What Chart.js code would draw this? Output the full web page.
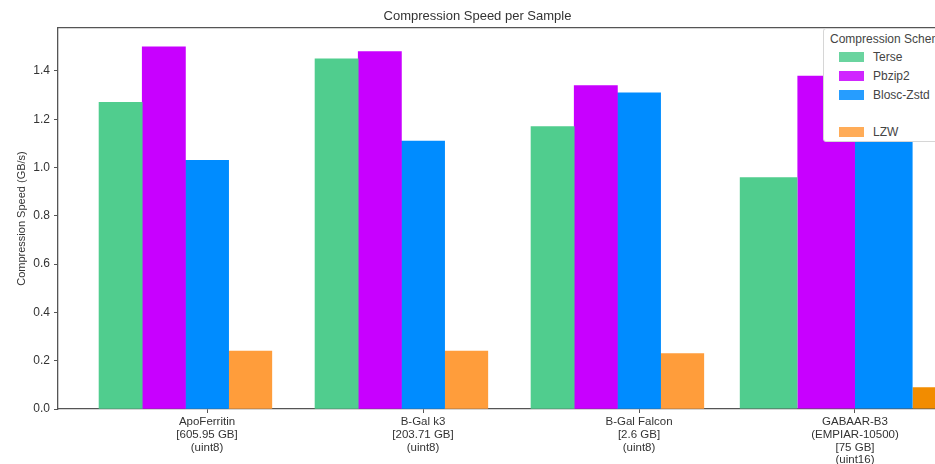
<!DOCTYPE html>
<html>
<head>
<meta charset="utf-8">
<script src="https://cdn.jsdelivr.net/npm/chart.js@4"></script>
<style>
  html, body { margin: 0; padding: 0; overflow: hidden; background: #fff; }
  #wrap { position: relative; width: 935px; height: 464px; overflow: hidden; }
  #chartID { position: absolute; left: 0; top: 0; }
  #legend {
    position: absolute; left: 823px; top: 28px; width: 140px; height: 112px;
    background: #fff; border: 1px solid #d6d6d6; border-radius: 3px;
    font: 12px "Liberation Sans", Arial, sans-serif; color: #444;
  }
  #legend .title { position: absolute; left: 6px; top: 3px; line-height: 14px; white-space: nowrap; }
  #legend .row { position: absolute; left: 15px; height: 14px; line-height: 14px; white-space: nowrap; }
  #legend .swatch { position: absolute; left: 0; top: 2px; width: 25px; height: 10px; }
  #legend .text { position: absolute; left: 34px; top: 0; }
</style>
</head>
<body>
<div id="wrap">
  <canvas id="chartID" width="1013" height="464"></canvas>
  <div id="legend"></div>
</div>
<script>
// samples on the x axis (multi-line tick labels)
const groupLabels = [
	['ApoFerritin', '[605.95 GB]', '(uint8)'],
	['B-Gal k3', '[203.71 GB]', '(uint8)'],
	['B-Gal Falcon', '[2.6 GB]', '(uint8)'],
	['GABAAR-B3', '(EMPIAR-10500)', '[75 GB]', '(uint16)'],
]
const schemes = ['Terse', 'Pbzip2', 'Blosc-Zstd', 'LZW']
// legend rows, with the empty entry the original shows before LZW
const legendRows = ['Terse', 'Pbzip2', 'Blosc-Zstd', '', 'LZW']

// compression speed in GB/s, one value per sample
const terseData = [1.27, 1.45, 1.17, 0.96]
const pbzip2Data = [1.50, 1.48, 1.34, 1.38]
const bloscData = [1.03, 1.11, 1.31, 1.11]
const lzwData = [0.24, 0.24, 0.23, 0.09]

const allData = [terseData, pbzip2Data, bloscData, lzwData]
const colors = ['#50cd8e', '#c800ff', '#008cff', '#ff9d3b']
const lastColors = ['#50cd8e', '#c800ff', '#008cff', '#f28c00']
const axisColor = '#555'

// bar slot offsets (in category units) the original plot used
const slot = 0.2
const lastSlot = 0.8 / 3

let datasets = []

// first three samples: bars of width 0.2 starting at tick - 0.5
schemes.forEach(function(name, s) {
	datasets.push({
		label: name,
		data: allData[s].slice(0, 3).map(function(v, i) {
			return {x: i + (s - 2) * slot, y: v}
		}),
		backgroundColor: colors[s],
		grouped: false,
		categoryPercentage: 1,
		barPercentage: 1,
	})
})

// last sample was plotted with wider bars centred on its tick
schemes.forEach(function(name, s) {
	datasets.push({
		label: name,
		data: [{x: 3 + (s - 1.5) * lastSlot, y: allData[s][3]}],
		backgroundColor: lastColors[s],
		grouped: false,
		categoryPercentage: lastSlot / slot,
		barPercentage: 1,
	})
})

const xMin = -0.69
const xMax = 3.463

function drawBarChart() {
	let chartCtx = document.getElementById('chartID').getContext('2d')
	let barChart = new Chart(chartCtx, {
		type: 'bar',
		data: {datasets: datasets},
		options: {
			responsive: false,
			animation: false,
			devicePixelRatio: 1,
			layout: {padding: {left: 0, right: 58, top: 0, bottom: 0}},
			font: {family: '"Liberation Sans", Arial, sans-serif'},
			plugins: {
				legend: {display: false},
				tooltip: {enabled: false},
				title: {
					display: true,
					text: 'Compression Speed per Sample',
					color: '#333',
					font: {size: 13, weight: 'normal', lineHeight: 1.2},
					padding: {top: 9, bottom: 3.4},
				},
			},
			scales: {
				x: {
					type: 'linear',
					position: 'bottom',
					min: xMin,
					max: xMax,
					offset: false,
					afterFit: function(scale) { scale.height = 55 },
					grid: {
						offset: false,
						drawOnChartArea: false,
						drawTicks: true,
						tickLength: 4,
						color: axisColor,
						lineWidth: 1,
					},
					border: {display: true, color: axisColor, width: 1.3},
					ticks: {
						stepSize: 1,
						includeBounds: false,
						autoSkip: false,
						maxRotation: 0,
						padding: 3,
						color: '#333',
						font: {size: 11.5, lineHeight: 1.1},
						callback: function(v) { return groupLabels[v] || '' },
					},
				},
				// only used to draw the top spine
				top: {
					type: 'linear',
					position: 'top',
					min: xMin,
					max: xMax,
					offset: false,
					afterFit: function(scale) { scale.height = 0 },
					grid: {display: false, offset: false},
					border: {display: true, color: axisColor, width: 1.3},
					ticks: {display: false, stepSize: 1, includeBounds: false},
				},
				y: {
					min: 0,
					max: 1.578,
					afterFit: function(scale) { scale.width = 58 },
					grid: {
						drawOnChartArea: false,
						drawTicks: true,
						tickLength: 4,
						color: axisColor,
					},
					border: {display: true, color: axisColor, width: 1.3},
					ticks: {
						stepSize: 0.2,
						includeBounds: false,
						padding: 4,
						color: '#333',
						font: {size: 12},
						callback: function(v) { return v.toFixed(1) },
					},
					title: {
						display: true,
						text: 'Compression Speed (GB/s)',
						color: '#333',
						font: {size: 11, lineHeight: 1.2},
						padding: {top: 15, bottom: 0},
					},
				},
			},
		},
	})
	buildLegend(barChart)
}

// html legend inside the plot, upper right (cut by the window like the original)
function buildLegend(chart) {
	let box = document.getElementById('legend')
	let html = '<div class="title">Compression Scheme</div>'
	legendRows.forEach(function(name, i) {
		let top = 21 + i * 18.8
		html += '<div class="row" style="top:' + top + 'px">'
		if (name) {
			let ds = chart.data.datasets[schemes.indexOf(name)]
			html += '<div class="swatch" style="background:' + ds.backgroundColor + ';opacity:0.85"></div>'
			html += '<div class="text">' + name + '</div>'
		}
		html += '</div>'
	})
	box.innerHTML = html
}

drawBarChart()
</script>
</body>
</html>
